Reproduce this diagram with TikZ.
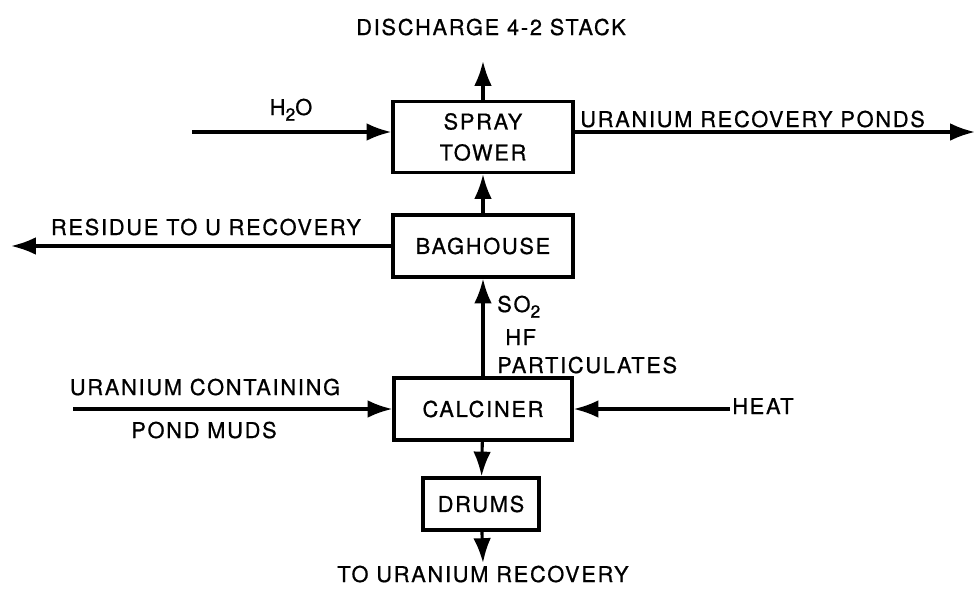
\documentclass[tikz,border=0pt]{standalone}
\usepackage{fontspec}
\setmainfont{TeX Gyre Heros}[LetterSpace=8, FakeBold=0.8]
\usetikzlibrary{arrows.meta}
\newcommand{\subtwo}{\raisebox{-0.5ex}{\fontsize{12.5}{12.5}\selectfont 2}}
\tikzstyle{unit} = [rectangle, 
draw=black, 
line width=2.2pt, 
minimum width=4.5cm, 
minimum height=1.55cm, 
text centered, 
align=center]
\tikzstyle{txt} = [inner sep=0pt, anchor=base]
\tikzstyle{flow} = [line width=2.2pt, -{Latex[length=6.2mm,width=4.4mm]}]

\begin{document}
\begin{tikzpicture}[x=0.025cm, y=-0.025cm, font=\fontsize{15.5}{22}\selectfont]
        \useasboundingbox (0,0) rectangle (976,598);

        \node (tower) [unit, minimum height=1.775cm] at (483,137) {SPRAY\\TOWER};
        \node (baghouse) [unit] at (483,246) {BAGHOUSE};
        \node (calciner) [unit, minimum width=4.45cm] at (483,409) {CALCINER};
        \node (drums) [unit, minimum width=2.9cm, minimum height=1.3cm] at (481,504) {DRUMS};

        \coordinate (stack) at (483,61);
        \coordinate (h2o) at (192,132);
        \coordinate (ponds) at (975,132);
        \coordinate (residue) at (11,246);
        \coordinate (mud) at (73,409);
        \coordinate (heat) at (730,409);
        \coordinate (out) at (483,563);

        % labels
        \node (stacktxt) [txt] at (491,35) {DISCHARGE 4-2 STACK};
        \node (h2otxt) [txt] at (291,115) {H\subtwo O};
        \node (pondstxt) [txt, anchor=base west] at (580,127) {URANIUM RECOVERY PONDS};
        \node (residuetxt) [txt] at (206,235) {RESIDUE TO U RECOVERY};
        \node (so2txt) [txt, anchor=base west] at (497,312) {SO\subtwo};
        \node (hftxt) [txt, anchor=base west] at (505,345) {HF};
        \node (parttxt) [txt, anchor=base west] at (497,373) {PARTICULATES};
        \node (mudtxt1) [txt] at (205,395) {URANIUM CONTAINING};
        \node (mudtxt2) [txt] at (204,438) {POND MUDS};
        \node (heattxt) [txt, anchor=base west] at (732,414) {HEAT};
        \node (outtxt) [txt] at (483,582) {TO URANIUM RECOVERY};

        \draw [flow] (tower) -- (stack);
        \draw [flow] (h2o) -- (h2o -| tower.west);
        \draw [flow] (ponds -| tower.east) -- (ponds);
        \draw [flow] (baghouse) -- (tower);
        \draw [flow] (baghouse) -- (residue);
        \draw [flow] (calciner) -- (baghouse);
        \draw [flow] (mud) -- (calciner);
        \draw [flow] (heat) -- (calciner);
        \draw [flow] (calciner) -- (drums);
        \draw [flow] (drums) -- (out);

    \end{tikzpicture}
\end{document}
